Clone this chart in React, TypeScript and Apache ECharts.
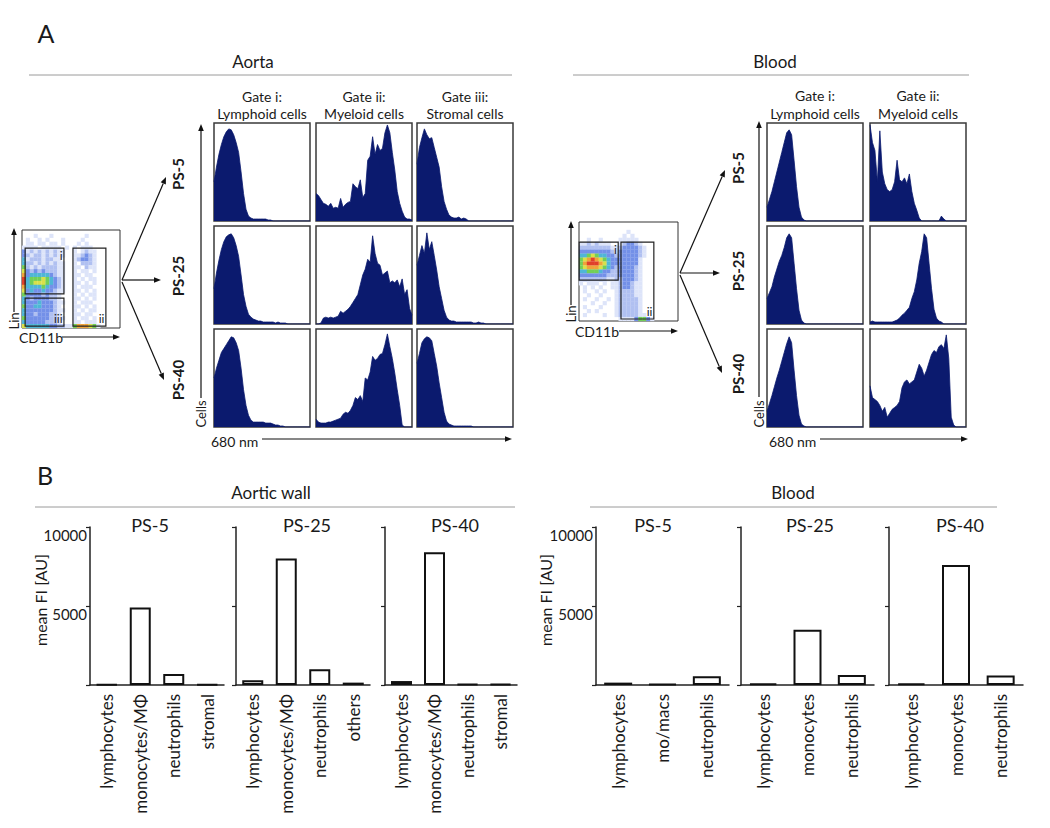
import React, { useEffect, useRef } from "react";
import * as echarts from "echarts";

const FONT = "Lato, 'Open Sans', 'DejaVu Sans', sans-serif";
const NAVY = "#0b1a6e";
const INK = "#1a1a1a";

// ---------- Panel A: 680 nm histograms (40 bins, % of panel height) ----------
const aortaLymph5 = [40,55,68,78,86,91,94,93,88,80,70,50,28,12,5,3,2,2,2,2,2,2,1,1,0,0,0,0,0,0,0,0,0,0,0,0,0,0,0,0];
const aortaMyelo5 = [28,26,22,18,17,15,18,13,14,13,23,14,17,19,20,38,35,33,42,24,28,62,66,86,68,78,72,74,90,98,90,70,52,30,18,10,4,2,2,1];
const aortaStroma5 = [58,75,85,94,88,84,85,75,65,55,35,20,12,6,4,3,3,4,2,3,2,0,0,0,0,0,0,0,0,0,0,0,0,0,0,0,0,0,0,0];
const aortaLymph25 = [36,52,65,76,84,89,91,92,88,80,69,50,30,18,10,7,5,4,3,3,2,2,2,2,2,1,2,1,1,1,0,0,0,0,0,0,0,0,0,0];
const aortaMyelo25 = [0,0,1,6,7,6,7,6,7,8,13,11,13,15,18,22,26,30,40,50,56,66,63,90,72,62,60,50,52,54,42,44,42,45,38,46,30,35,16,9];
const aortaStroma25 = [60,70,80,72,93,76,84,70,55,38,26,14,7,4,3,3,2,2,2,2,2,2,2,1,1,2,1,1,0,0,0,0,0,0,0,0,0,0,0,0];
const aortaLymph40 = [50,60,68,76,80,84,88,92,91,86,78,60,38,22,12,7,5,5,5,5,5,4,4,4,3,2,2,1,1,0,0,0,0,0,0,0,0,0,0,0];
const aortaMyelo40 = [8,5,4,4,4,5,5,6,7,8,9,13,15,14,17,22,30,28,32,26,50,48,56,72,68,70,74,75,84,95,82,70,55,38,22,2,0,0,0,0];
const aortaStroma40 = [65,75,86,90,92,91,88,75,62,45,30,15,6,3,2,1,1,1,1,1,1,1,1,0,0,0,0,0,0,0,0,0,0,0,0,0,0,0,0,0];
const bloodLymph5 = [14,22,30,40,50,60,70,80,90,93,88,62,35,14,4,1,0,0,0,0,0,0,0,0,0,0,0,0,0,0,0,0,0,0,0,0,0,0,0,0];
const bloodMyelo5 = [98,80,72,40,92,50,38,32,30,32,40,62,42,40,44,38,48,30,18,11,3,0,0,0,0,0,0,0,0,5,2,0,0,0,0,0,0,0,0,0];
const bloodLymph25 = [26,32,38,48,56,64,70,78,88,92,88,62,36,14,4,1,0,0,0,0,0,0,0,0,0,0,0,0,0,0,0,0,0,0,0,0,0,0,0,0];
const bloodMyelo25 = [2,3,2,2,2,2,2,2,2,2,3,4,6,9,11,14,17,26,33,45,62,74,92,88,62,36,15,6,3,2,0,0,0,0,0,0,0,0,0,0];
const bloodLymph40 = [16,24,32,41,50,58,67,76,85,92,86,58,32,12,3,1,0,0,0,0,0,0,0,0,0,0,0,0,0,0,0,0,0,0,0,0,0,0,0,0];
const bloodMyelo40 = [42,30,28,26,22,16,20,10,14,18,20,22,26,40,46,48,44,46,48,56,64,60,52,58,66,74,78,76,82,84,80,94,70,10,2,0,0,0,0,0];

const rowLabels = ["PS-5", "PS-25", "PS-40"];
const aortaGates = [["Gate i:", "Lymphoid cells"], ["Gate ii:", "Myeloid cells"], ["Gate iii:", "Stromal cells"]];
const bloodGates = [["Gate i:", "Lymphoid cells"], ["Gate ii:", "Myeloid cells"]];
const aortaHists = [
  [aortaLymph5, aortaMyelo5, aortaStroma5],
  [aortaLymph25, aortaMyelo25, aortaStroma25],
  [aortaLymph40, aortaMyelo40, aortaStroma40],
];
const bloodHists = [
  [bloodLymph5, bloodMyelo5],
  [bloodLymph25, bloodMyelo25],
  [bloodLymph40, bloodMyelo40],
];

// ---------- Lin vs CD11b density plots (levels 0-8, rows top to bottom) ----------
const aortaDensity = [
  "0000000000000000000000000",
  "0001000100000000100000000",
  "0100101000100001000000000",
  "0110110110100010100000000",
  "1111011111010101110000000",
  "3121212121100101211000000",
  "3212212121100112321000000",
  "4122212211000123321000000",
  "4221212121100102221000000",
  "5212122221100110211000000",
  "6323232221100101101000000",
  "7344444321100110110000000",
  "8455565432100101011000000",
  "8456665432100110101000000",
  "7444454332100101110000000",
  "6343343321100110101000000",
  "5333323221000101011000000",
  "4323333221000110101000000",
  "4333433321100101110000000",
  "5334433321000110101000000",
  "4333333321100101011000000",
  "4332333221000110110000000",
  "5333333221100101101000000",
  "4333332221000110111000000",
  "6444444332211577765100000",
];
const bloodDensity = [
  "0000000000000000000000000",
  "0000000000000000000000000",
  "0000000000001000000000000",
  "0000000000010100000000000",
  "0010010000111110000000000",
  "1121211100123321000000000",
  "2222222211233332100000000",
  "3333333321333332100000000",
  "4456544332333332100000000",
  "5678765433333331000000000",
  "5788876433333331000000000",
  "5677765432333321000000000",
  "4455543322333321000000000",
  "3333333222333321000000000",
  "2222222112233321000000000",
  "1011101011233211000000000",
  "0101010011233211000000000",
  "0100101001222211000000000",
  "0010010001222211000000000",
  "0100100101222221000000000",
  "0001001001222221000000000",
  "0100010001222221000000000",
  "0010100001222221000000000",
  "0100001001222221100000000",
  "0000000000111135531000000",
];
const densityColors = ["#dde4f9", "#b0c0f1", "#7390e8", "#4fb6d6", "#72cf58", "#d9e04a", "#f0a33a", "#e0402a"];

// ---------- Panel B: mean FI [AU] ----------
const aorticCats5 = ["lymphocytes", "monocytes/MΦ", "neutrophils", "stromal"];
const aorticVals5 = [40, 4900, 700, 40];
const aorticCats25 = ["lymphocytes", "monocytes/MΦ", "neutrophils", "others"];
const aorticVals25 = [300, 8000, 1000, 150];
const aorticCats40 = ["lymphocytes", "monocytes/MΦ", "neutrophils", "stromal"];
const aorticVals40 = [250, 8400, 50, 50];
const bloodCats5 = ["lymphocytes", "mo/macs", "neutrophils"];
const bloodVals5 = [150, 60, 550];
const bloodCats25 = ["lymphocytes", "monocytes", "neutrophils"];
const bloodVals25 = [100, 3500, 630];
const bloodCats40 = ["lymphocytes", "monocytes", "neutrophils"];
const bloodVals40 = [100, 7600, 600];
const barTitles = ["PS-5", "PS-25", "PS-40"];
const fiMax = 10000;
const fiStep = 5000;

function densityPoints(rows: string[]) {
  const pts: number[][] = [];
  rows.forEach((row, r) => {
    for (let c = 0; c < row.length; c++) {
      const v = Number(row[c]);
      if (v > 0) pts.push([c + 0.5, rows.length - r - 0.5, v]);
    }
  });
  return pts;
}

function txt(text: string, x: number, y: number, size: number, extra: any = {}) {
  const { rotation, ...style } = extra;
  return {
    type: "text",
    x,
    y,
    rotation: rotation || 0,
    style: {
      text,
      fontSize: size,
      fontFamily: FONT,
      fill: INK,
      align: "center",
      verticalAlign: "middle",
      ...style,
    },
  };
}

function hline(x1: number, x2: number, y: number, color = "#9a9a9a", w = 1) {
  return { type: "line", shape: { x1, y1: y, x2, y2: y }, style: { stroke: color, lineWidth: w } };
}

function arrow(x1: number, y1: number, x2: number, y2: number, w = 1.2, head = 7) {
  const dx = x2 - x1, dy = y2 - y1;
  const L = Math.hypot(dx, dy);
  const ux = dx / L, uy = dy / L;
  const bx = x2 - ux * head, by = y2 - uy * head;
  const nx = -uy * head * 0.4, ny = ux * head * 0.4;
  return [
    { type: "line", shape: { x1, y1, x2: bx, y2: by }, style: { stroke: "#111", lineWidth: w } },
    { type: "polygon", shape: { points: [[x2, y2], [bx + nx, by + ny], [bx - nx, by - ny]] }, style: { fill: "#111" } },
  ];
}

function buildOption() {
  const grids: any[] = [];
  const xAxes: any[] = [];
  const yAxes: any[] = [];
  const series: any[] = [];
  const elements: any[] = [];

  const addGrid = (g: any, x: any, y: any) => {
    const gi = grids.length;
    grids.push({ containLabel: false, ...g });
    xAxes.push({ gridIndex: gi, ...x });
    yAxes.push({ gridIndex: gi, ...y });
    return gi;
  };

  // ----- histograms -----
  const rowTops = [123, 226, 329];
  const PW = 96, PH = 98;
  const addHist = (left: number, top: number, vals: number[]) => {
    const gi = addGrid(
      { left, top, width: PW, height: PH, show: true, borderColor: "#3a3a3a", borderWidth: 1.5, backgroundColor: "#fff" },
      { type: "value", min: 0, max: vals.length - 1, show: false },
      { type: "value", min: 0, max: 100, show: false }
    );
    series.push({
      type: "line",
      xAxisIndex: gi,
      yAxisIndex: gi,
      data: vals.map((v, i) => [i, v]),
      symbol: "none",
      silent: true,
      lineStyle: { color: NAVY, width: 0.8 },
      areaStyle: { color: NAVY, opacity: 1 },
    });
  };
  const aortaCols = [214, 316, 417];
  const bloodCols = [767, 870];
  aortaHists.forEach((row, r) => row.forEach((vals, c) => addHist(aortaCols[c], rowTops[r], vals)));
  bloodHists.forEach((row, r) => row.forEach((vals, c) => addHist(bloodCols[c], rowTops[r], vals)));

  // ----- density plots -----
  const scatterIdx: number[] = [];
  const addDensity = (left: number, top: number, size: number, rows: string[], gates: any[]) => {
    const gi = addGrid(
      { left, top, width: size, height: size, show: true, borderColor: "#333", borderWidth: 1, backgroundColor: "#fff" },
      { type: "value", min: 0, max: 25, show: false },
      { type: "value", min: 0, max: 25, show: false }
    );
    scatterIdx.push(series.length);
    series.push({
      type: "scatter",
      xAxisIndex: gi,
      yAxisIndex: gi,
      symbol: "rect",
      symbolSize: size / 25 + 0.2,
      silent: true,
      z: 2,
      itemStyle: { opacity: 1 },
      data: densityPoints(rows),
      markArea: {
        silent: true,
        z: 10,
        itemStyle: { color: "rgba(0,0,0,0)", borderColor: "#222", borderWidth: 1.2, borderType: "solid", opacity: 1 },
        label: { show: true, fontFamily: FONT, fontSize: 12, color: "#222", distance: 2 },
        data: gates.map((g: any) => [
          { name: g.name, coord: [g.x0, g.y0], label: { position: g.pos } },
          { coord: [g.x1, g.y1] },
        ]),
      },
    });
  };
  addDensity(22, 230, 98, aortaDensity, [
    { name: "i", x0: 0.8, y0: 8.7, x1: 10.7, y1: 20.4, pos: "insideTopRight" },
    { name: "iii", x0: 0.8, y0: 0.5, x1: 10.7, y1: 7.6, pos: "insideBottomRight" },
    { name: "ii", x0: 13.0, y0: 0.5, x1: 21.4, y1: 20.4, pos: "insideBottomRight" },
  ]);
  addDensity(579, 222, 99, bloodDensity, [
    { name: "i", x0: 0.05, y0: 10.3, x1: 9.9, y1: 19.9, pos: "insideTopRight" },
    { name: "ii", x0: 10.6, y0: 0.5, x1: 18.9, y1: 19.9, pos: "insideBottomRight" },
  ]);

  // ----- bar charts -----
  const addBars = (left: number, width: number, cats: string[], vals: number[], showY: boolean, barW: number) => {
    const gi = addGrid(
      { left, top: 527, width, height: 158 },
      {
        type: "category",
        data: cats,
        axisLine: { show: true, lineStyle: { color: "#222", width: 1.5 } },
        axisTick: { show: false },
        axisLabel: { rotate: 90, fontSize: 17, fontFamily: FONT, color: INK, margin: 9 },
      },
      {
        type: "value",
        min: 0,
        max: fiMax,
        interval: fiStep,
        splitLine: { show: false },
        axisLine: { show: true, lineStyle: { color: "#222", width: 1.5 } },
        axisTick: { show: true, length: 4, lineStyle: { color: "#222", width: 1.2 } },
        axisLabel: {
          show: showY,
          fontSize: 15,
          fontFamily: FONT,
          color: INK,
          margin: 3,
          verticalAlign: "top",
          formatter: (v: number) => (v === 0 ? "" : String(v)),
        },
      }
    );
    series.push({
      type: "bar",
      xAxisIndex: gi,
      yAxisIndex: gi,
      data: vals,
      barWidth: barW,
      silent: true,
      itemStyle: { color: "#fff", borderColor: "#111", borderWidth: 2 },
    });
  };
  addBars(90, 134, aorticCats5, aorticVals5, true, 21);
  addBars(236, 134, aorticCats25, aorticVals25, false, 21);
  addBars(385, 132, aorticCats40, aorticVals40, false, 21);
  addBars(596, 133, bloodCats5, bloodVals5, true, 28);
  addBars(741, 133, bloodCats25, bloodVals25, false, 28);
  addBars(889, 134, bloodCats40, bloodVals40, false, 28);

  // ----- annotations: panel A -----
  elements.push(txt("A", 46, 33, 25));
  elements.push(txt("Aorta", 253, 61, 17));
  elements.push(hline(29, 512, 75));
  elements.push(txt("Blood", 775, 61, 17));
  elements.push(hline(573, 969, 75));
  aortaGates.forEach((g, c) => {
    elements.push(txt(g[0], aortaCols[c] + PW / 2, 96, 14));
    elements.push(txt(g[1], aortaCols[c] + PW / 2, 113, 14));
  });
  bloodGates.forEach((g, c) => {
    elements.push(txt(g[0], bloodCols[c] + PW / 2, 95, 14));
    elements.push(txt(g[1], bloodCols[c] + PW / 2, 113, 14));
  });
  const aortaLabelY = [174, 276, 380];
  const bloodLabelY = [168, 271, 374];
  rowLabels.forEach((l, r) => {
    elements.push(txt(l, 178, aortaLabelY[r], 15, { rotation: Math.PI / 2, fontWeight: "bold" }));
    elements.push(txt(l, 738, bloodLabelY[r], 15, { rotation: Math.PI / 2, fontWeight: "bold" }));
  });
  // Cells axes
  elements.push(...arrow(201, 398, 201, 124));
  elements.push(txt("Cells", 201, 414, 13, { rotation: Math.PI / 2 }));
  elements.push(...arrow(759, 397, 759, 121));
  elements.push(txt("Cells", 759, 414, 13, { rotation: Math.PI / 2 }));
  // 680 nm axes
  elements.push(txt("680 nm", 211, 441, 14, { align: "left" }));
  elements.push(...arrow(262, 439, 512, 439));
  elements.push(txt("680 nm", 769, 441, 14, { align: "left" }));
  elements.push(...arrow(820, 439, 968, 439));
  // density plot axes
  elements.push(...arrow(14, 312, 14, 228));
  elements.push(txt("Lin", 14, 321, 13, { rotation: Math.PI / 2 }));
  elements.push(txt("CD11b", 19, 337, 14, { align: "left" }));
  elements.push(...arrow(62, 337, 120, 337));
  elements.push(...arrow(571, 305, 571, 221));
  elements.push(txt("Lin", 571, 314, 13, { rotation: Math.PI / 2 }));
  elements.push(txt("CD11b", 575, 331, 14, { align: "left" }));
  elements.push(...arrow(619, 331, 678, 331));
  // gate arrows
  elements.push(...arrow(122, 280, 166, 177));
  elements.push(...arrow(122, 280, 161, 280));
  elements.push(...arrow(122, 282, 164, 380));
  elements.push(...arrow(680, 273, 725, 170));
  elements.push(...arrow(680, 273, 720, 273));
  elements.push(...arrow(680, 275, 722, 373));

  // ----- annotations: panel B -----
  elements.push(txt("B", 45, 475, 25));
  elements.push(txt("Aortic wall", 271, 492, 17));
  elements.push(hline(35, 515, 507));
  elements.push(txt("Blood", 793, 492, 17));
  elements.push(hline(590, 997, 507));
  elements.push(txt("mean FI [AU]", 40, 600, 16, { rotation: Math.PI / 2 }));
  elements.push(txt("mean FI [AU]", 545, 600, 16, { rotation: Math.PI / 2 }));
  const aorticTitleX = [150, 307, 455];
  const bloodTitleX = [653, 810, 960];
  barTitles.forEach((t, i) => {
    elements.push(txt(t, aorticTitleX[i], 525, 18));
    elements.push(txt(t, bloodTitleX[i], 525, 18));
  });

  return {
    animation: false,
    backgroundColor: "#ffffff",
    grid: grids,
    xAxis: xAxes,
    yAxis: yAxes,
    series,
    visualMap: [
      {
        type: "piecewise",
        show: false,
        seriesIndex: scatterIdx,
        dimension: 2,
        pieces: densityColors.map((color, i) => ({ value: i + 1, color })),
      },
    ],
    graphic: { elements },
  };
}

export default function App() {
  const ref = useRef<HTMLDivElement>(null);
  useEffect(() => {
    document.body.style.margin = "0";
    if (!ref.current) return;
    const chart = echarts.init(ref.current, undefined, { renderer: "svg" });
    chart.setOption(buildOption() as any);
    return () => chart.dispose();
  }, []);
  return <div ref={ref} style={{ width: 1050, height: 828 }} />;
}
